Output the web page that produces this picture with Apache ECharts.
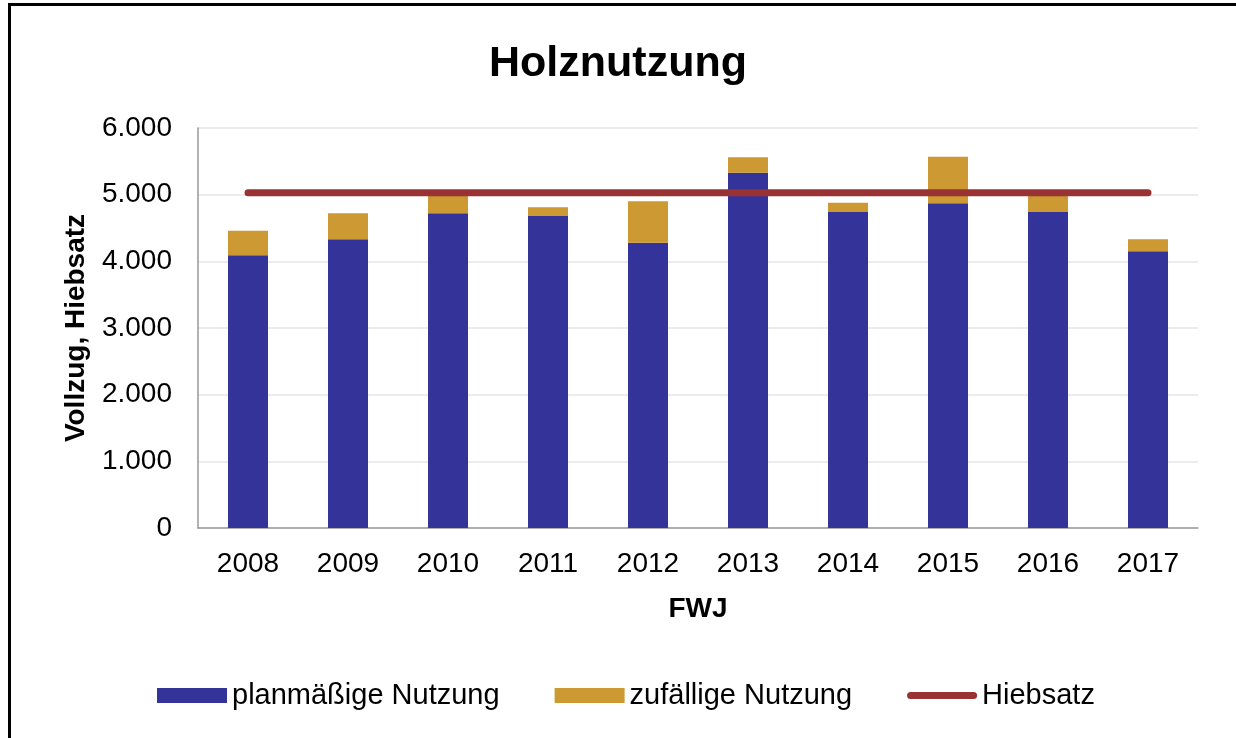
<!DOCTYPE html>
<html>
<head>
<meta charset="utf-8">
<title>Holznutzung</title>
<script src="https://cdn.jsdelivr.net/npm/echarts@6/dist/echarts.min.js"></script>
<style>
  html, body { margin: 0; padding: 0; background: #fff; }
  #frame { position: absolute; left: 8px; top: 3px; width: 1240px; height: 750px; border: 3px solid #000; box-sizing: border-box; }
  #main { position: absolute; left: 0; top: 0; width: 1236px; height: 738px; }
</style>
</head>
<body>
<div id="frame"></div>
<div id="main"></div>
<script>
  // Daten (Festmeter je Forstwirtschaftsjahr)
  const years = ['2008', '2009', '2010', '2011', '2012', '2013', '2014', '2015', '2016', '2017']
  const planmaessig = [4090, 4330, 4720, 4680, 4280, 5330, 4740, 4870, 4740, 4150]
  const zufaellig = [370, 390, 270, 130, 620, 230, 140, 700, 260, 180]
  const hiebsatz = [5030, 5030, 5030, 5030, 5030, 5030, 5030, 5030, 5030, 5030]
  const yTicks = [0, 1000, 2000, 3000, 4000, 5000, 6000]

  const myChart = echarts.init(document.getElementById('main'))
  const font = '"Liberation Sans", Arial, sans-serif'

  // dicke Linie mit runden Enden als Legendensymbol
  const lineIcon = 'path://M3.5,0 L66.5,0 A3.5,3.5 0 0 1 66.5,7 L3.5,7 A3.5,3.5 0 0 1 3.5,0 Z'

  const option = {
    animation: false,
    textStyle: { fontFamily: font },
    title: {
      text: 'Holznutzung',
      left: 'center',
      top: 38,
      textStyle: { fontSize: 43, fontWeight: 'bold', color: '#000', fontFamily: font }
    },
    grid: { left: 198, right: 38, top: 128, bottom: 210 },
    legend: {
      left: 152,
      top: 676,
      itemWidth: 70,
      itemHeight: 15,
      itemGap: 55,
      symbolKeepAspect: true,
      textStyle: { fontSize: 29, color: '#000', fontFamily: font },
      data: [
        { name: 'planmäßige Nutzung', icon: 'rect' },
        { name: 'zufällige Nutzung', icon: 'rect' },
        { name: 'Hiebsatz', icon: lineIcon }
      ]
    },
    xAxis: {
      type: 'category',
      data: years,
      name: 'FWJ',
      nameLocation: 'middle',
      nameGap: 67,
      nameTextStyle: { fontSize: 28, fontWeight: 'bold', color: '#000' },
      axisLine: { lineStyle: { color: '#999', width: 1.5 } },
      axisTick: { show: false },
      axisLabel: { fontSize: 28, color: '#000', margin: 22 }
    },
    yAxis: {
      type: 'value',
      min: yTicks[0],
      max: yTicks[yTicks.length - 1],
      interval: 1000,
      name: 'Vollzug, Hiebsatz',
      nameLocation: 'middle',
      nameGap: 108,
      nameTextStyle: { fontSize: 28, fontWeight: 'bold', color: '#000' },
      axisLine: { show: true, lineStyle: { color: '#999', width: 1.5 } },
      axisTick: { show: false },
      splitLine: { lineStyle: { color: '#e6e6e6', width: 1.5 } },
      axisLabel: {
        fontSize: 28,
        color: '#000',
        margin: 26,
        formatter: v => v === 0 ? '0' : v.toLocaleString('de-DE')
      }
    },
    series: [
      {
        name: 'planmäßige Nutzung',
        type: 'bar',
        stack: 'vollzug',
        barWidth: '40%',
        itemStyle: { color: '#333399' },
        data: planmaessig
      },
      {
        name: 'zufällige Nutzung',
        type: 'bar',
        stack: 'vollzug',
        barWidth: '40%',
        itemStyle: { color: '#cc9933' },
        data: zufaellig
      },
      {
        name: 'Hiebsatz',
        type: 'line',
        symbol: 'none',
        z: 5,
        itemStyle: { color: '#993333' },
        lineStyle: { color: '#993333', width: 7, cap: 'round' },
        data: hiebsatz
      }
    ]
  }
  option && myChart.setOption(option)
  window.addEventListener('resize', () => {
    myChart.resize()
  })
</script>
</body>
</html>
